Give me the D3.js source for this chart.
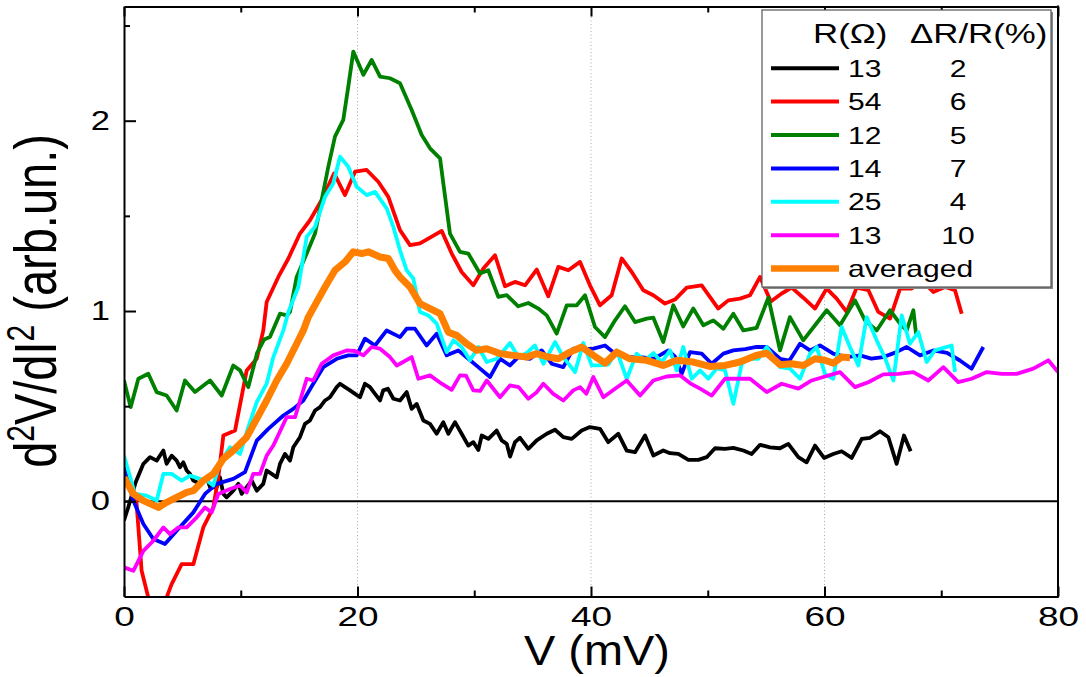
<!DOCTYPE html>
<html><head><meta charset="utf-8">
<script src="https://cdn.jsdelivr.net/npm/d3@7"></script>
<style>
body{margin:0;background:#fff}
svg{display:block}
text{font-family:"Liberation Sans",Arial,Helvetica,sans-serif;fill:#000}
</style></head><body>
<svg id="c" width="1086" height="677"></svg>
<script>
// ---- data (V in mV, d2V/dI2 in arb. units) ----
const s13a = [[0,-0.10],[0.37,-0.03],[1.0,0.10],[1.66,0.197],[2.23,0.232],[2.80,0.214],[3.37,0.267],[3.65,0.197],[4.08,0.240],[4.51,0.214],[4.80,0.179],[5.08,0.205],[5.37,0.162],[5.65,0.144],[5.94,0.109],[6.51,0.092],[7.08,0.126],[7.37,0.074],[7.94,0.074],[8.22,0.126],[8.51,0.039],[8.79,0.021],[9.36,0.056],[9.79,0.092],[10.08,0.039],[10.51,0.074],[10.94,0.109],[11.37,0.056],[11.93,0.092],[12.22,0.162],[12.65,0.144],[13.08,0.126],[13.36,0.197],[13.79,0.249],[14.22,0.214],[14.5,0.284],[15.07,0.337],[15.5,0.407],[15.93,0.425],[16.36,0.477],[16.79,0.495],[17.22,0.530],[17.64,0.547],[18.22,0.600],[18.5,0.618],[18.93,0.600],[19.36,0.583],[19.79,0.565],[20.21,0.547],[20.64,0.618],[21.07,0.600],[21.5,0.565],[21.93,0.530],[22.2,0.583],[22.6,0.592],[23.07,0.539],[23.64,0.53],[24.21,0.574],[24.64,0.486],[25.07,0.512],[25.64,0.425],[26.21,0.407],[26.78,0.355],[27.35,0.416],[27.78,0.355],[28.35,0.416],[28.92,0.355],[29.49,0.293],[29.92,0.311],[30.35,0.270],[30.64,0.346],[31.21,0.328],[31.92,0.372],[32.35,0.320],[32.78,0.302],[33.07,0.235],[33.49,0.311],[33.92,0.334],[34.63,0.276],[35.35,0.320],[36.21,0.355],[36.92,0.376],[37.63,0.337],[38.35,0.328],[39.2,0.372],[39.91,0.390],[40.77,0.381],[41.48,0.311],[42.34,0.355],[43.06,0.267],[43.77,0.258],[44.63,0.346],[45.34,0.241],[46.19,0.267],[46.77,0.253],[47.48,0.249],[48.34,0.218],[49.19,0.218],[49.91,0.232],[50.62,0.279],[51.48,0.276],[52.19,0.281],[53.05,0.267],[53.76,0.249],[54.48,0.297],[55.33,0.284],[56.19,0.279],[56.9,0.302],[57.76,0.232],[58.47,0.205],[59.19,0.293],[59.96,0.228],[60.75,0.249],[61.47,0.263],[62.33,0.228],[63.19,0.328],[63.9,0.334],[64.75,0.368],[65.47,0.337],[66.18,0.197],[66.81,0.346],[67.38,0.263]];

const s54 = [[0,0.12],[0.8,0.04],[1.08,-0.014],[1.51,-0.365],[2.08,-0.505],[2.8,-0.62],[3.3,-0.6],[3.65,-0.505],[4.08,-0.435],[4.94,-0.33],[5.94,-0.33],[6.79,-0.137],[7.65,-0.032],[8.08,0.126],[8.51,0.346],[9.51,0.372],[10.51,0.688],[11.37,0.749],[11.93,0.898],[12.22,1.047],[13.22,1.179],[14.08,1.276],[15.07,1.407],[15.93,1.477],[16.93,1.583],[18.0,1.723],[18.93,1.609],[19.79,1.732],[20.79,1.741],[21.78,1.679],[22.64,1.6],[23.64,1.425],[24.5,1.346],[25.35,1.355],[26.21,1.386],[27.21,1.421],[28.07,1.302],[28.92,1.205],[29.92,1.135],[30.78,1.223],[31.78,1.293],[32.63,1.13],[33.49,1.153],[34.35,1.135],[35.35,1.218],[36.34,1.077],[37.2,1.232],[38.06,1.214],[39.06,1.258],[39.91,1.135],[40.77,1.03],[41.77,1.083],[42.63,1.276],[43.49,1.205],[44.48,1.109],[45.34,1.083],[46.34,1.039],[47.19,1.06],[48.2,1.123],[49.48,1.135],[50.9,1.013],[51.76,1.056],[52.76,1.065],[53.62,1.083],[54.48,1.179],[55.4,1.05],[56.33,1.092],[57.19,1.123],[58.18,1.07],[59.19,1.013],[60.19,1.118],[61.04,1.065],[61.9,0.995],[62.76,1.123],[63.75,1.11],[64.61,0.995],[65.61,0.96],[66.47,1.118],[67.47,1.118],[68.35,1.16],[69.32,1.1],[70.32,1.126],[71.18,1.109],[71.75,0.986]];

const s12 = [[0,0.635],[0.57,0.495],[1.23,0.644],[2.08,0.670],[2.8,0.574],[3.65,0.556],[4.51,0.477],[5.22,0.635],[6.08,0.574],[7.37,0.635],[8.37,0.556],[9.36,0.714],[9.94,0.688],[10.65,0.600],[11.4,0.78],[12.0,0.85],[12.5,0.863],[13.36,0.986],[13.93,0.977],[14.22,0.995],[14.79,1.179],[15.65,1.302],[16.36,1.407],[16.93,1.583],[17.5,1.758],[18.07,1.916],[18.78,2.004],[19.21,2.179],[19.64,2.363],[20.5,2.241],[21.21,2.319],[21.93,2.232],[22.78,2.223],[23.64,2.197],[24.64,2.056],[25.5,1.925],[26.21,1.855],[27.07,1.802],[27.92,1.407],[28.78,1.311],[29.49,1.302],[30.49,1.197],[31.2,1.214],[32.06,1.074],[32.78,1.083],[33.77,1.025],[34.63,1.042],[35.49,1.013],[36.21,0.977],[37.06,0.881],[37.92,1.030],[38.78,1.030],[39.49,1.083],[40.34,0.916],[41.2,0.863],[42.06,0.951],[42.91,1.025],[43.77,0.942],[44.77,0.960],[45.34,0.965],[46.19,0.837],[47.05,1.030],[47.9,0.919],[48.76,1.013],[49.62,0.925],[50.48,0.951],[51.34,0.907],[52.19,0.986],[53.05,0.898],[54.19,0.912],[55.19,1.070],[56.19,0.793],[57.04,0.968],[58.18,0.846],[59.19,0.925],[60.19,1.004],[61.33,0.925],[62.61,1.056],[63.47,0.951],[64.47,0.898],[65.61,1.004],[66.47,0.934],[67.04,0.898],[67.61,1.004],[67.84,0.881]];

const s14 = [[0,0.179],[0.8,0.004],[1.66,-0.119],[2.51,-0.198],[3.51,-0.224],[4.51,-0.154],[5.94,-0.058],[6.94,0.039],[7.94,0.092],[9.36,0.118],[10.36,0.153],[11.37,0.319],[12.36,0.381],[13.65,0.451],[14.5,0.486],[15.36,0.53],[16.21,0.618],[17.07,0.705],[18.22,0.749],[19.21,0.767],[19.93,0.767],[20.64,0.855],[21.5,0.819],[22.5,0.898],[23.64,0.863],[24.21,0.907],[24.92,0.907],[25.92,0.819],[26.78,0.881],[27.64,0.767],[28.63,0.793],[29.49,0.749],[30.35,0.705],[31.35,0.653],[32.21,0.749],[33.06,0.714],[33.77,0.758],[34.78,0.749],[35.78,0.793],[36.63,0.723],[37.63,0.705],[38.48,0.802],[39.34,0.80],[40.2,0.802],[41.2,0.819],[42.06,0.776],[43.06,0.758],[44.2,0.758],[45.4,0.75],[46.62,0.793],[47.2,0.76],[47.77,0.670],[48.48,0.784],[49.48,0.776],[50.34,0.723],[51.34,0.776],[52.19,0.793],[53.2,0.80],[54.19,0.811],[55.05,0.811],[56.19,0.749],[57.0,0.74],[57.9,0.828],[58.76,0.793],[59.61,0.819],[60.75,0.776],[61.9,0.758],[63.04,0.767],[64.0,0.75],[65.04,0.758],[66.0,0.78],[67.04,0.811],[68.18,0.767],[69.32,0.793],[70.5,0.78],[71.6,0.74],[72.6,0.697],[73.6,0.811]];

const s25 = [[0,0.24],[0.94,0.039],[1.94,0.03],[2.8,0.004],[3.37,0.144],[4.08,0.144],[4.94,0.109],[5.65,0.135],[6.51,0.118],[7.08,0.11],[7.65,0.083],[8.2,0.2],[9.08,0.284],[9.94,0.249],[10.65,0.39],[11.37,0.521],[12.22,0.618],[12.79,0.758],[13.65,0.898],[14.08,0.995],[14.93,1.126],[15.65,1.39],[16.36,1.442],[17.22,1.6],[17.93,1.671],[18.5,1.811],[19.21,1.758],[19.93,1.653],[20.79,1.609],[21.5,1.626],[22.5,1.539],[23.07,1.442],[23.64,1.319],[24.21,1.214],[24.78,1.171],[25.35,0.995],[26.07,0.977],[26.78,0.934],[27.64,0.784],[28.21,0.846],[28.92,0.811],[29.64,0.741],[30.35,0.811],[31.07,0.732],[31.92,0.749],[33.06,0.832],[33.77,0.758],[34.5,0.78],[35.2,0.819],[35.92,0.723],[36.92,0.837],[37.63,0.758],[38.63,0.679],[39.34,0.832],[40.06,0.714],[40.77,0.714],[41.5,0.72],[42.2,0.793],[43.06,0.644],[43.91,0.776],[44.6,0.74],[45.34,0.779],[46.05,0.732],[46.77,0.793],[47.34,0.688],[47.9,0.811],[48.63,0.644],[49.34,0.688],[50.05,0.644],[50.8,0.70],[51.48,0.688],[52.19,0.512],[52.91,0.723],[53.6,0.75],[54.33,0.749],[55.05,0.811],[56.19,0.705],[57.04,0.697],[57.9,0.644],[58.76,0.776],[59.33,0.811],[60.04,0.670],[60.75,0.644],[61.47,0.916],[62.18,0.811],[62.9,0.714],[63.61,0.968],[64.47,0.846],[65.2,0.75],[65.9,0.635],[66.61,0.977],[67.32,0.828],[68.04,0.889],[68.75,0.732],[69.46,0.793],[70.89,0.819],[71.18,0.679]];

const s13b = [[0,-0.347],[0.8,-0.365],[1.66,-0.26],[2.51,-0.207],[3.37,-0.137],[3.94,-0.172],[4.65,-0.137],[5.37,-0.137],[6.23,-0.084],[6.94,-0.032],[7.51,-0.058],[8.08,0.039],[9.08,0.065],[9.94,0.083],[10.51,0.047],[11.07,0.144],[11.65,0.144],[12.22,0.24],[12.79,0.293],[13.93,0.442],[14.65,0.442],[15.65,0.644],[16.21,0.635],[16.93,0.723],[17.93,0.767],[19.07,0.793],[19.79,0.79],[20.5,0.767],[21.21,0.811],[21.93,0.802],[22.78,0.758],[23.36,0.714],[23.64,0.723],[24.64,0.758],[25.21,0.644],[26.21,0.662],[27.21,0.618],[28.07,0.586],[28.78,0.662],[29.3,0.66],[29.92,0.583],[30.5,0.58],[31.07,0.635],[32.21,0.547],[33.06,0.609],[33.8,0.60],[34.63,0.539],[35.3,0.57],[35.92,0.618],[36.77,0.565],[37.63,0.53],[38.48,0.583],[39.06,0.6],[39.6,0.565],[40.2,0.653],[41.06,0.547],[42.06,0.592],[43.06,0.635],[44.2,0.556],[45.34,0.635],[46.48,0.656],[47.62,0.662],[48.5,0.62],[49.34,0.592],[50.34,0.556],[51.48,0.644],[53.62,0.644],[55.05,0.574],[56.33,0.618],[57.76,0.592],[58.9,0.635],[60.04,0.656],[61.33,0.679],[62.61,0.6],[63.75,0.626],[65.04,0.667],[66.33,0.670],[67.61,0.679],[68.89,0.635],[70.18,0.705],[71.46,0.626],[72.6,0.644],[73.9,0.679],[75.18,0.670],[76.46,0.670],[77.89,0.697],[79.17,0.741],[80,0.679]];

const sAvg = [[0,0.126],[0.8,0.039],[1.66,0.004],[2.94,-0.032],[3.65,-0.005],[4.51,0.021],[5.37,0.047],[5.94,0.056],[6.79,0.109],[7.65,0.144],[8.51,0.223],[9.36,0.267],[10.51,0.337],[11.37,0.434],[12.22,0.53],[13.08,0.635],[13.93,0.723],[14.79,0.828],[15.36,0.898],[15.79,0.968],[16.5,1.047],[17.22,1.126],[18.07,1.214],[18.93,1.258],[19.64,1.311],[20.36,1.302],[20.93,1.311],[21.93,1.284],[22.64,1.276],[23.21,1.214],[23.64,1.179],[24.5,1.126],[25.35,1.039],[26.21,1.013],[27.07,0.986],[27.78,0.889],[28.5,0.872],[29.35,0.828],[30.21,0.793],[31.07,0.802],[32.21,0.776],[33.35,0.767],[34.49,0.758],[35.35,0.776],[36.34,0.758],[37.2,0.749],[38.2,0.784],[39.2,0.811],[40.2,0.767],[41.2,0.726],[42.2,0.784],[43.34,0.749],[44.77,0.741],[46.19,0.714],[47.34,0.741],[48.76,0.732],[50.19,0.709],[51.48,0.714],[52.76,0.732],[54.19,0.767],[55.05,0.779],[56.19,0.718],[57.19,0.723],[58.18,0.714],[59.19,0.749],[60.04,0.741],[60.75,0.726],[61.47,0.758],[62.18,0.755]];

const rOhm   = ["13","54","12","14","25","13"];
const dRR    = ["2","6","5","7","4","10"];
const colors = ["#000000","#ff0000","#008000","#0000ff","#00ffff","#ff00ff","#ff8000"];
const xMajor = [0,20,40,60,80], xMinor = [10,30,50,70];
const yMajor = [0,1,2], yMinor = [0.5,1.5,2.5];
const xGrid  = [20,40,60];

// ---- drawing ----
const svg = d3.select("#c");
const L=124, R=1058, T=6.5, B=596.5;
const x = d3.scaleLinear().domain([0,80]).range([L,R]);
const y = d3.scaleLinear().domain([-0.5,2.6]).range([B,T]);

function stretch(sel,f){ sel.each(function(){ const w=this.getComputedTextLength(); d3.select(this).attr("textLength",w*f).attr("lengthAdjust","spacingAndGlyphs"); }); }

svg.append("defs").append("clipPath").attr("id","clip").append("rect")
  .attr("x",L).attr("y",T).attr("width",R-L).attr("height",B-T);

// grid
svg.append("g").selectAll("line").data(xGrid).join("line")
  .attr("x1",d=>x(d)).attr("x2",d=>x(d)).attr("y1",T).attr("y2",B)
  .attr("stroke","#aaa").attr("stroke-width",1).attr("stroke-dasharray","1,2.5");

// zero line
svg.append("line").attr("x1",L).attr("x2",R).attr("y1",y(0)).attr("y2",y(0))
  .attr("stroke","#000").attr("stroke-width",2);

// series
const line = d3.line().x(d=>x(d[0])).y(d=>y(d[1]));
const all = [s13a,s54,s12,s14,s25,s13b,sAvg];
const g = svg.append("g").attr("clip-path","url(#clip)");
all.forEach((s,i)=>{
  g.append("path").datum(s).attr("d",line).attr("fill","none")
   .attr("stroke",colors[i]).attr("stroke-width", i===6?7:3.8)
   .attr("stroke-linejoin","round").attr("stroke-linecap","butt");
});

// axes
function styleAxis(ax){ ax.selectAll("path.domain").attr("stroke","#000").attr("stroke-width",2);
  ax.selectAll(".tick line").attr("stroke","#000").attr("stroke-width",2); }
const ab = svg.append("g").attr("transform",`translate(0,${B})`)
  .call(d3.axisBottom(x).tickValues(xMajor).tickSize(-10).tickSizeOuter(0).tickPadding(10).tickFormat(d3.format("d")));
ab.selectAll("text").attr("font-size",28).attr("font-family","Liberation Sans, Arial, sans-serif");
styleAxis(ab);
const abm = svg.append("g").attr("transform",`translate(0,${B})`)
  .call(d3.axisBottom(x).tickValues(xMinor).tickSize(-6).tickSizeOuter(0).tickFormat(""));
styleAxis(abm); abm.select("path.domain").remove();
const at = svg.append("g").attr("transform",`translate(0,${T})`)
  .call(d3.axisTop(x).tickValues(xMajor).tickSize(-10).tickSizeOuter(0).tickFormat(""));
styleAxis(at);
const atm = svg.append("g").attr("transform",`translate(0,${T})`)
  .call(d3.axisTop(x).tickValues(xMinor).tickSize(-6).tickSizeOuter(0).tickFormat(""));
styleAxis(atm); atm.select("path.domain").remove();
const al = svg.append("g").attr("transform",`translate(${L},0)`)
  .call(d3.axisLeft(y).tickValues(yMajor).tickSize(-12).tickSizeOuter(0).tickPadding(14).tickFormat(d3.format("d")));
al.selectAll("text").attr("font-size",27).attr("font-family","Liberation Sans, Arial, sans-serif");
styleAxis(al);
const alm = svg.append("g").attr("transform",`translate(${L},0)`)
  .call(d3.axisLeft(y).tickValues(yMinor).tickSize(-6).tickSizeOuter(0).tickFormat(""));
styleAxis(alm); alm.select("path.domain").remove();
svg.append("line").attr("x1",R).attr("x2",R).attr("y1",T-1).attr("y2",B+1).attr("stroke","#000").attr("stroke-width",2);
stretch(ab.selectAll("text"),1.32);
stretch(al.selectAll("text"),1.28);

// axis titles
const xt = svg.append("text").attr("x",597).attr("y",665).attr("text-anchor","middle")
  .attr("font-size",42).text("V (mV)");
xt.attr("textLength",146).attr("lengthAdjust","spacingAndGlyphs");
const yt = svg.append("text").attr("transform","translate(56,301) scale(1.28,1) rotate(-90)")
  .attr("text-anchor","middle").attr("font-size",47);
yt.append("tspan").text("d");
yt.append("tspan").attr("font-size",30).attr("dy",-17).text("2");
yt.append("tspan").attr("dy",17).text("V/dI");
yt.append("tspan").attr("font-size",30).attr("dy",-17).text("2");
yt.append("tspan").attr("dy",17).text(" (arb.un.)");

// legend
const lg = svg.append("g");
lg.append("rect").attr("x",764).attr("y",12).attr("width",289).attr("height",277).attr("fill","#888");
lg.append("rect").attr("x",762).attr("y",10).attr("width",289).attr("height",277)
  .attr("fill","#fff").attr("stroke","#555").attr("stroke-width",1.2);
const h1 = lg.append("text").attr("x",813).attr("y",43).attr("font-size",27).text("R(\u03A9)");
const h2 = lg.append("text").attr("x",910).attr("y",43).attr("font-size",27).text("\u0394R/R(%)");
stretch(h1,1.29); stretch(h2,1.29);
const labels = rOhm.concat(["averaged"]);
labels.forEach((lab,i)=>{
  const by = 76.7 + i*33.4;
  lg.append("line").attr("x1",771).attr("x2",839).attr("y1",by-8.5).attr("y2",by-8.5)
    .attr("stroke",colors[i]).attr("stroke-width", i===6?6.5:4);
  const t = lg.append("text").attr("x",848).attr("y",by).attr("font-size",24).text(lab);
  stretch(t,1.25);
  if(i<6){ const t2 = lg.append("text").attr("x",958).attr("y",by).attr("text-anchor","middle").attr("font-size",24).text(dRR[i]); stretch(t2,1.25); }
});
</script></body></html>
